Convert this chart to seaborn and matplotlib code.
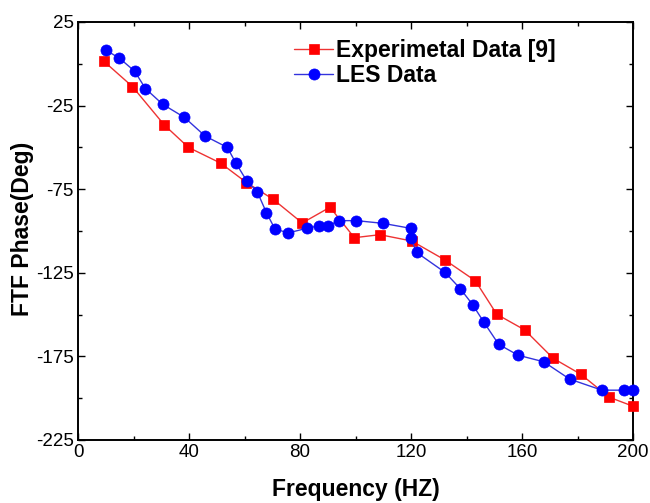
import numpy as np
import pandas as pd
import matplotlib
matplotlib.use("Agg")
import matplotlib.pyplot as plt
import seaborn as sns
from matplotlib.ticker import MultipleLocator

# ---- data ----
exp_freq = [9.4, 19.6, 31.1, 39.8, 51.4, 60.7, 70.3, 80.8, 90.8, 99.6, 108.8, 120.3,
            132.3, 143.2, 150.9, 161.0, 171.2, 181.2, 191.4, 200.0]
exp_phase = [1.4, -13.6, -36.6, -50.0, -59.4, -71.0, -81.0, -95.2, -85.8, -104.0, -102.2,
             -106.0, -117.4, -129.8, -149.8, -159.2, -176.1, -185.7, -199.4, -204.8]

les_freq = [10.2, 14.9, 20.4, 24.3, 30.5, 38.3, 45.8, 53.8, 56.9, 60.8, 64.6, 67.9, 70.9,
            75.6, 82.4, 87.0, 90.2, 94.0, 100.3, 109.8, 119.9, 119.9, 122.0, 132.3, 137.7,
            142.2, 146.2, 151.6, 158.6, 167.8, 177.2, 188.8, 196.8, 200.0]
les_phase = [8.0, 3.4, -4.4, -14.8, -24.2, -32.0, -43.2, -50.0, -59.4, -70.0, -76.6, -89.0,
             -98.6, -101.2, -98.4, -96.8, -96.8, -93.8, -93.8, -95.4, -98.4, -104.2, -112.8,
             -124.8, -134.4, -144.0, -154.4, -167.8, -174.3, -178.2, -188.6, -195.2, -195.2,
             -195.2]

exp_label = "Experimetal Data [9]"
les_label = "LES Data"
x_label = "Frequency (HZ)"
y_label = "FTF Phase(Deg)"
x_ticks = [0, 40, 80, 120, 160, 200]
y_ticks = [-225, -175, -125, -75, -25, 25]

sns.set_style("ticks")
plt.rcParams["font.family"] = ["Liberation Sans", "DejaVu Sans"]
plt.rcParams["axes.unicode_minus"] = False
plt.rcParams["text.color"] = "black"
plt.rcParams["axes.labelcolor"] = "black"

fig = plt.figure(figsize=(6.5, 5.03), dpi=100)
ax = fig.add_axes([78 / 650, 1 - 440 / 503, 555 / 650, 418 / 503])

df_exp = pd.DataFrame({"f": exp_freq, "p": exp_phase})
df_les = pd.DataFrame({"f": les_freq, "p": les_phase})

sns.lineplot(data=df_exp, x="f", y="p", ax=ax, sort=False, estimator=None,
             color="#ee3333", lw=1.0, marker="s", markersize=7.5,
             markerfacecolor="#ff0000", markeredgecolor="#ff0000", markeredgewidth=0.5,
             label=exp_label, clip_on=False, zorder=3)
sns.lineplot(data=df_les, x="f", y="p", ax=ax, sort=False, estimator=None,
             color="#3333dd", lw=1.0, marker="o", markersize=8,
             markerfacecolor="#0000ff", markeredgecolor="#0000ff", markeredgewidth=0.5,
             label=les_label, clip_on=False, zorder=4)

ax.set_xlim(0, 200)
ax.set_ylim(-225, 25)
ax.set_xticks(x_ticks)
ax.set_yticks(y_ticks)
ax.xaxis.set_minor_locator(MultipleLocator(20))
ax.yaxis.set_minor_locator(MultipleLocator(25))
ax.tick_params(which="both", direction="in", top=True, right=True, width=1.0,
               labelsize=13.5, colors="black", labelcolor="black", pad=3)
ax.tick_params(which="major", length=5)
ax.tick_params(which="minor", length=3)
for s in ax.spines.values():
    s.set_linewidth(1.4)
    s.set_color("black")

ax.set_xlabel(x_label, fontsize=16.5, fontweight="bold", labelpad=12, color="black")
ax.set_ylabel(y_label, fontsize=16.5, fontweight="bold", color="black")
ax.yaxis.set_label_coords(-0.08, 0.505)

leg = ax.legend(loc="upper left", bbox_to_anchor=(0.39, 0.96), frameon=False,
                prop={"weight": "bold", "size": 16.5},
                handlelength=1.7, handletextpad=0.1, labelspacing=0.1,
                borderpad=0, borderaxespad=0)
for t in leg.get_texts():
    t.set_color("black")

fig.savefig("out.png", dpi=100)
